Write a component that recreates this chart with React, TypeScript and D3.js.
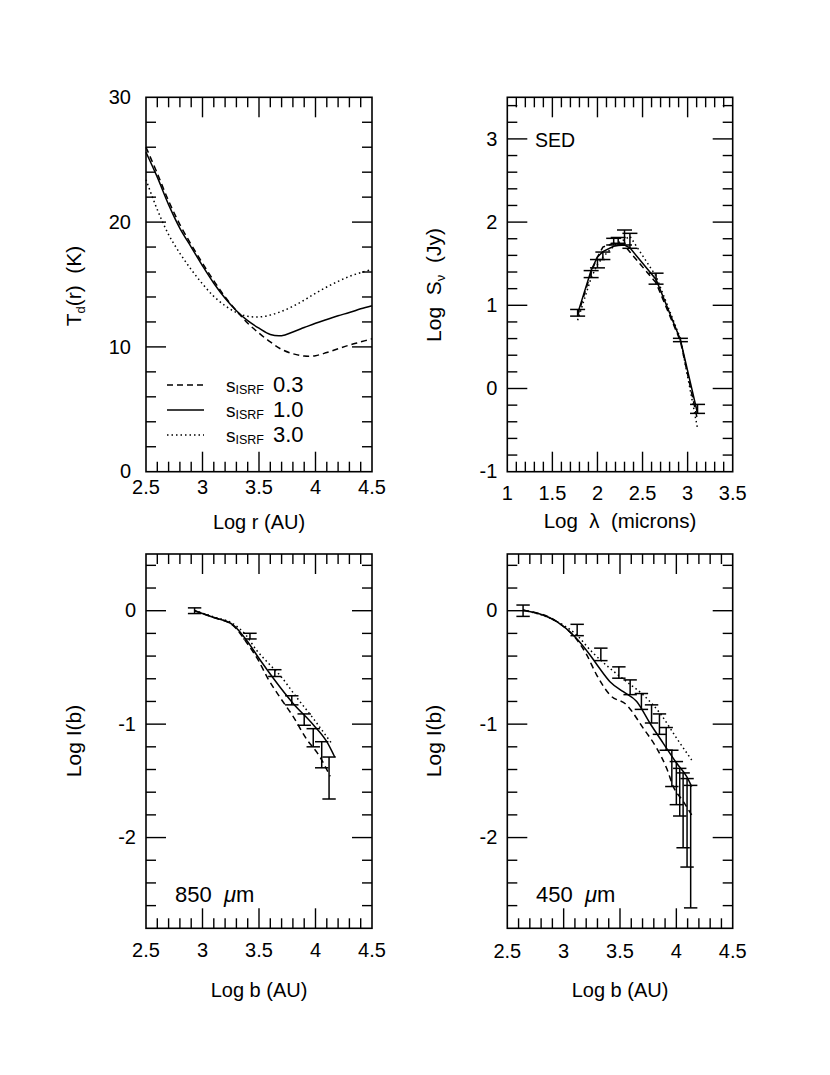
import React from 'react';
import * as d3 from 'd3';

const FONT = "'Liberation Sans', Arial, Helvetica, sans-serif";

// dust temperature vs log r, for three ISRF scalings
const logR = [2.5, 2.6, 2.7, 2.8, 2.9, 3.0, 3.1, 3.2, 3.3, 3.4, 3.5, 3.6, 3.7, 3.8, 3.9, 4.0, 4.1, 4.2, 4.3, 4.4, 4.5];
const td03 = [26.0, 23.9, 21.7, 19.8, 18.2, 16.7, 15.3, 14.0, 12.9, 11.9, 11.1, 10.4, 9.8, 9.45, 9.27, 9.3, 9.55, 9.85, 10.15, 10.4, 10.65];
const td10 = [25.6, 23.6, 21.4, 19.5, 18.0, 16.5, 15.1, 13.9, 12.9, 12.1, 11.5, 11.0, 10.9, 11.2, 11.55, 11.9, 12.2, 12.5, 12.75, 13.05, 13.3];
const td30 = [23.4, 21.0, 19.0, 17.5, 16.2, 15.05, 14.05, 13.3, 12.75, 12.45, 12.4, 12.55, 12.85, 13.25, 13.75, 14.3, 14.8, 15.25, 15.65, 15.95, 16.2];
const legendRows = [
  { label: '0.3', dash: '6,4' },
  { label: '1.0', dash: 'none' },
  { label: '3.0', dash: '1.5,3' },
];

// SED observations
const sedLogLam = [1.78, 1.93, 2.0, 2.06, 2.18, 2.23, 2.3, 2.36, 2.65, 2.92, 3.11];
const sedLogS = [0.91, 1.375, 1.5, 1.595, 1.765, 1.78, 1.815, 1.775, 1.32, 0.583, -0.245];
const sedErr = [0.04, 0.042, 0.05, 0.045, 0.04, 0.035, 0.09, 0.09, 0.066, 0.02, 0.054];
// SED models
const sedModelLam = [1.78, 1.93, 2.0, 2.06, 2.18, 2.23, 2.3, 2.36, 2.65, 2.92, 3.11];
const sed03 = [0.87, 1.4, 1.58, 1.7, 1.745, 1.745, 1.72, 1.64, 1.27, 0.57, -0.38];
const sed10 = [0.9, 1.42, 1.58, 1.645, 1.71, 1.72, 1.725, 1.69, 1.31, 0.585, -0.3];
const sed30 = [0.82, 1.33, 1.49, 1.58, 1.71, 1.75, 1.79, 1.83, 1.35, 0.6, -0.48];

// 850 micron intensity profile
const b850 = [2.93, 3.42, 3.64, 3.79, 3.9, 3.98, 4.055, 4.12];
const i850 = [0.0, -0.224, -0.55, -0.79, -0.96, -1.12, -1.27, -1.475];
const e850 = [0.025, 0.025, 0.03, 0.04, 0.05, 0.08, 0.115, 0.185];
const m850s03: [number, number][] = [[2.93, 0], [3.1, -0.06], [3.27, -0.13], [3.39, -0.28], [3.49, -0.43], [3.58, -0.6], [3.69, -0.77], [3.8, -0.93], [3.92, -1.13], [4.04, -1.29], [4.13, -1.46]];
const m850s10: [number, number][] = [[2.93, 0], [3.1, -0.06], [3.27, -0.125], [3.39, -0.26], [3.51, -0.435], [3.63, -0.6], [3.8, -0.815], [3.98, -1.005], [4.1, -1.155], [4.17, -1.29]];
const m850s30: [number, number][] = [[2.93, 0], [3.1, -0.055], [3.27, -0.115], [3.38, -0.21], [3.48, -0.35], [3.59, -0.47], [3.69, -0.575], [3.83, -0.76], [3.98, -0.95], [4.15, -1.18]];

// 450 micron intensity profile
const b450 = [2.64, 3.12, 3.33, 3.49, 3.59, 3.69, 3.78, 3.85, 3.91, 3.96, 4.0, 4.03, 4.06, 4.095, 4.127];
const i450 = [0.0, -0.17, -0.385, -0.545, -0.675, -0.8, -0.91, -1.0, -1.13, -1.39, -1.52, -1.6, -1.76, -1.87, -2.08];
const e450 = [0.05, 0.05, 0.055, 0.05, 0.065, 0.07, 0.08, 0.09, 0.1, 0.16, 0.19, 0.21, 0.33, 0.39, 0.54];
const m450s03: [number, number][] = [[2.64, 0.005], [2.94, -0.097], [3.1, -0.235], [3.2, -0.38], [3.293, -0.567], [3.411, -0.743], [3.559, -0.831], [3.707, -1.037], [3.826, -1.213], [3.914, -1.389], [3.973, -1.551], [4.062, -1.683], [4.136, -1.8]];
const m450s10: [number, number][] = [[2.64, 0.005], [2.94, -0.097], [3.1, -0.229], [3.234, -0.39], [3.32, -0.51], [3.411, -0.626], [3.529, -0.714], [3.648, -0.8], [3.766, -0.992], [3.884, -1.169], [4.003, -1.345], [4.092, -1.463], [4.136, -1.551]];
const m450s30: [number, number][] = [[2.64, 0.005], [2.94, -0.095], [3.1, -0.2], [3.263, -0.375], [3.411, -0.508], [3.559, -0.626], [3.707, -0.743], [3.855, -0.904], [4.003, -1.125], [4.136, -1.316]];

type Scale = d3.ScaleLinear<number, number>;

const ticksAt = (lo: number, hi: number, step: number) =>
  d3.range(Math.ceil(lo / step - 1e-6), Math.floor(hi / step + 1e-6) + 1).map(k => +(k * step).toFixed(4));
const isMult = (v: number, step: number) => Math.abs(v / step - Math.round(v / step)) < 1e-6;

interface FrameProps {
  x: Scale; y: Scale;
  xMajor: number; xMinor: number; yMajor: number; yMinor: number;
  xLabelY: number; yGap?: number;
}

function Frame({ x, y, xMajor, xMinor, yMajor, yMinor, xLabelY, yGap = 10 }: FrameProps) {
  const [xa, xb] = x.range();
  const [ya, yb] = y.range();
  const [xd0, xd1] = x.domain();
  const [yd0, yd1] = y.domain();
  const big = 20, small = 10;
  const xt = ticksAt(xd0, xd1, xMinor).filter(v => v > xd0 + 1e-6 && v < xd1 - 1e-6);
  const yt = ticksAt(yd0, yd1, yMinor).filter(v => v > yd0 + 1e-6 && v < yd1 - 1e-6);
  return (
    <g stroke="#000" strokeWidth={1.4}>
      <rect x={xa} y={yb} width={xb - xa} height={ya - yb} fill="none" strokeWidth={1.6} />
      {xt.map(v => {
        const L = isMult(v, xMajor) ? big : small;
        return (
          <g key={`xt${v}`}>
            <line x1={x(v)} x2={x(v)} y1={ya} y2={ya - L} />
            <line x1={x(v)} x2={x(v)} y1={yb} y2={yb + L} />
          </g>
        );
      })}
      {yt.map(v => {
        const L = isMult(v, yMajor) ? big : small;
        return (
          <g key={`yt${v}`}>
            <line x1={xa} x2={xa + L} y1={y(v)} y2={y(v)} />
            <line x1={xb} x2={xb - L} y1={y(v)} y2={y(v)} />
          </g>
        );
      })}
      <g stroke="none" fill="#000" fontFamily={FONT} fontSize={20}>
        {ticksAt(xd0, xd1, xMajor).map(v => (
          <text key={`xl${v}`} x={x(v)} y={xLabelY} textAnchor="middle">{String(v)}</text>
        ))}
        {ticksAt(yd0, yd1, yMajor).map(v => (
          <text key={`yl${v}`} x={xa - yGap} y={y(v)} dy="0.33em" textAnchor="end">{String(v)}</text>
        ))}
      </g>
    </g>
  );
}

function ErrorBars({ x, y, xs, ys, es, cap }: { x: Scale; y: Scale; xs: number[]; ys: number[]; es: number[]; cap: number }) {
  return (
    <g stroke="#000" strokeWidth={1.5}>
      {xs.map((v, i) => {
        const cx = x(v), lo = y(ys[i] - es[i]), hi = y(ys[i] + es[i]);
        return (
          <g key={i}>
            <line x1={cx} x2={cx} y1={lo} y2={hi} />
            <line x1={cx - cap} x2={cx + cap} y1={lo} y2={lo} />
            <line x1={cx - cap} x2={cx + cap} y1={hi} y2={hi} />
          </g>
        );
      })}
    </g>
  );
}

function Curve({ x, y, pts, dash, curve }: { x: Scale; y: Scale; pts: [number, number][]; dash: string; curve: d3.CurveFactory }) {
  const line = d3.line<[number, number]>().x(d => x(d[0])).y(d => y(d[1])).curve(curve);
  return <path d={line(pts) || ''} fill="none" stroke="#000" strokeWidth={1.5} strokeDasharray={dash} />;
}

const zip = (a: number[], b: number[]) => a.map((v, i) => [v, b[i]] as [number, number]);

export default function App() {
  const xTL = d3.scaleLinear().domain([2.5, 4.5]).range([146, 372]);
  const yTL = d3.scaleLinear().domain([0, 30]).range([471.7, 97.3]);
  const xTR = d3.scaleLinear().domain([1, 3.5]).range([507.3, 732.7]);
  const yTR = d3.scaleLinear().domain([-1, 3.5]).range([471.7, 97.3]);
  const xBL = d3.scaleLinear().domain([2.5, 4.5]).range([146, 372]);
  const yBL = d3.scaleLinear().domain([-2.8, 0.5]).range([928.3, 554]);
  const xBR = d3.scaleLinear().domain([2.5, 4.5]).range([507.3, 732.7]);
  const yBR = d3.scaleLinear().domain([-2.8, 0.5]).range([928.3, 554]);

  const dashes = ['6,4', 'none', '1.5,3'];
  const smooth = d3.curveMonotoneX;

  return (
    <svg width={830} height={1075} viewBox="0 0 830 1075"
      style={{ position: 'absolute', left: 0, top: 0, background: '#fff' }}>
      <rect width={830} height={1075} fill="#fff" />

      {/* Td(r) panel */}
      <Frame x={xTL} y={yTL} xMajor={0.5} xMinor={0.1} yMajor={10} yMinor={2} xLabelY={494} yGap={15} />
      {[td03, td10, td30].map((td, k) => (
        <Curve key={k} x={xTL} y={yTL} pts={zip(logR, td)} dash={dashes[k]} curve={d3.curveCatmullRom} />
      ))}
      {legendRows.map((r, k) => {
        const yy = 385 + k * 25;
        return (
          <g key={r.label} fontFamily={FONT}>
            <line x1={167} x2={204} y1={yy} y2={yy} stroke="#000" strokeWidth={1.5} strokeDasharray={r.dash} />
            <text x={226} y={yy + 6.5} fontSize={19}>s</text>
            <text x={235.5} y={yy + 9} fontSize={12.5}>ISRF</text>
            <text x={273} y={yy + 6.7} fontSize={22}>{r.label}</text>
          </g>
        );
      })}
      <text x={259} y={529} textAnchor="middle" fontFamily={FONT} fontSize={20}>Log r (AU)</text>
      <text transform="translate(81,286) rotate(-90)" textAnchor="middle" fontFamily={FONT} fontSize={21}
        style={{ whiteSpace: 'pre' }}>
        T<tspan fontSize={13} dy={4}>d</tspan><tspan dy={-4}>(r)  (K)</tspan>
      </text>

      {/* SED panel */}
      <Frame x={xTR} y={yTR} xMajor={0.5} xMinor={0.1} yMajor={1} yMinor={0.2} xLabelY={500} />
      {[sed03, sed10, sed30].map((s, k) => (
        <Curve key={k} x={xTR} y={yTR} pts={zip(sedModelLam, s)} dash={dashes[k]} curve={d3.curveLinear} />
      ))}
      <ErrorBars x={xTR} y={yTR} xs={sedLogLam} ys={sedLogS} es={sedErr} cap={7.5} />
      <text x={535} y={146.5} fontFamily={FONT} fontSize={19.5}>SED</text>
      <text x={620} y={528} textAnchor="middle" fontFamily={FONT} fontSize={20.5} style={{ whiteSpace: 'pre' }}>
        {'Log  λ  (microns)'}
      </text>
      <text transform="translate(441,285) rotate(-90)" textAnchor="middle" fontFamily={FONT} fontSize={21}
        style={{ whiteSpace: 'pre' }}>
        {'Log  S'}<tspan fontSize={13} dy={4}>ν</tspan><tspan dy={-4}>{'  (Jy)'}</tspan>
      </text>

      {/* 850 micron profile */}
      <Frame x={xBL} y={yBL} xMajor={0.5} xMinor={0.1} yMajor={1} yMinor={0.2} xLabelY={956.5} />
      {[m850s03, m850s10, m850s30].map((m, k) => (
        <Curve key={k} x={xBL} y={yBL} pts={m} dash={dashes[k]} curve={smooth} />
      ))}
      <ErrorBars x={xBL} y={yBL} xs={b850} ys={i850} es={e850} cap={6.7} />
      <text x={175} y={901.5} fontFamily={FONT} fontSize={22} style={{ whiteSpace: 'pre' }}>
        {'850  '}<tspan fontStyle="italic">μ</tspan>m
      </text>
      <text x={259} y={997} textAnchor="middle" fontFamily={FONT} fontSize={20}>Log b (AU)</text>
      <text transform="translate(81,741) rotate(-90)" textAnchor="middle" fontFamily={FONT} fontSize={21}>Log I(b)</text>

      {/* 450 micron profile */}
      <Frame x={xBR} y={yBR} xMajor={0.5} xMinor={0.1} yMajor={1} yMinor={0.2} xLabelY={958} />
      {[m450s03, m450s10, m450s30].map((m, k) => (
        <Curve key={k} x={xBR} y={yBR} pts={m} dash={dashes[k]} curve={smooth} />
      ))}
      <ErrorBars x={xBR} y={yBR} xs={b450} ys={i450} es={e450} cap={6.7} />
      <text x={536} y={901.5} fontFamily={FONT} fontSize={22} style={{ whiteSpace: 'pre' }}>
        {'450  '}<tspan fontStyle="italic">μ</tspan>m
      </text>
      <text x={620} y={997} textAnchor="middle" fontFamily={FONT} fontSize={20}>Log b (AU)</text>
      <text transform="translate(441,741) rotate(-90)" textAnchor="middle" fontFamily={FONT} fontSize={21}>Log I(b)</text>
    </svg>
  );
}
